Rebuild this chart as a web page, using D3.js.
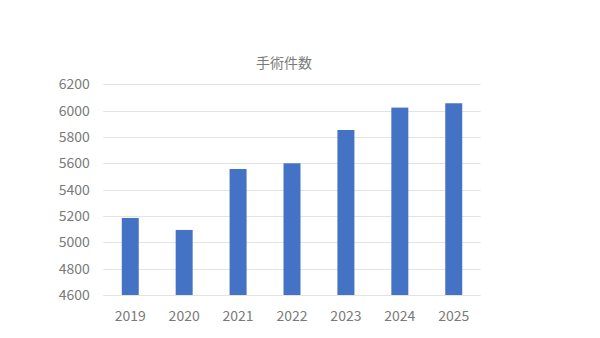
<!DOCTYPE html>
<html>
<head>
<meta charset="utf-8">
<script src="https://cdn.jsdelivr.net/npm/d3@7"></script>
<style>
  body { margin: 0; background: #fff; }
  text { font-family: "Noto Sans CJK JP", "Noto Sans", sans-serif; }
</style>
</head>
<body>
<script>
// chart data
var years = ["2019", "2020", "2021", "2022", "2023", "2024", "2025"];
var counts = [5185, 5094, 5557, 5600, 5853, 6023, 6056];
var yTicks = [4600, 4800, 5000, 5200, 5400, 5600, 5800, 6000, 6200];
var title = "手術件数";

var width = 600, height = 338;
var plot = {left: 103.3, right: 480.7, top: 84.3, bottom: 295};
var textColor = "#7a7a7a";

var svg = d3.select("body").append("svg")
    .attr("width", width)
    .attr("height", height);

var x = d3.scaleBand()
    .domain(years)
    .range([plot.left, plot.right])
    .paddingInner(0.685)
    .paddingOuter(0.3425);

var y = d3.scaleLinear()
    .domain([4600, 6200])
    .range([plot.bottom, plot.top]);

// gridlines
svg.append("g")
    .selectAll("line")
    .data(yTicks)
    .enter()
    .append("line")
    .attr("x1", plot.left)
    .attr("x2", plot.right)
    .attr("y1", function(d) { return Math.round(y(d)) + 0.5; })
    .attr("y2", function(d) { return Math.round(y(d)) + 0.5; })
    .attr("stroke", "#e3e3e3")
    .attr("stroke-width", 1);

// bars
svg.append("g")
    .selectAll("rect")
    .data(counts)
    .enter()
    .append("rect")
    .attr("x", function(d, i) { return x(years[i]); })
    .attr("y", function(d) { return y(d); })
    .attr("width", x.bandwidth())
    .attr("height", function(d) { return y(4600) - y(d); })
    .attr("fill", "#4472c4");

// y axis labels
var yAxis = svg.append("g")
    .attr("transform", "translate(" + (plot.left - 13.5) + ",0)")
    .call(d3.axisLeft(y).tickValues(yTicks).tickSize(0).tickPadding(0).tickFormat(d3.format("d")));
yAxis.select(".domain").remove();
yAxis.selectAll("text")
    .style("font-size", "14px")
    .style("font-family", "'Noto Sans CJK JP', 'Noto Sans', sans-serif")
    .attr("fill", textColor);

// x axis labels
var xAxis = svg.append("g")
    .attr("transform", "translate(0," + plot.bottom + ")")
    .call(d3.axisBottom(x).tickSize(0).tickPadding(16));
xAxis.select(".domain").remove();
xAxis.selectAll("text")
    .style("font-size", "14px")
    .style("font-family", "'Noto Sans CJK JP', 'Noto Sans', sans-serif")
    .attr("fill", textColor);

// title
svg.append("text")
    .attr("x", (plot.left + plot.right) / 2 - 8)
    .attr("y", 68)
    .attr("text-anchor", "middle")
    .attr("fill", textColor)
    .style("font-size", "14px")
    .text(title);
</script>
</body>
</html>
